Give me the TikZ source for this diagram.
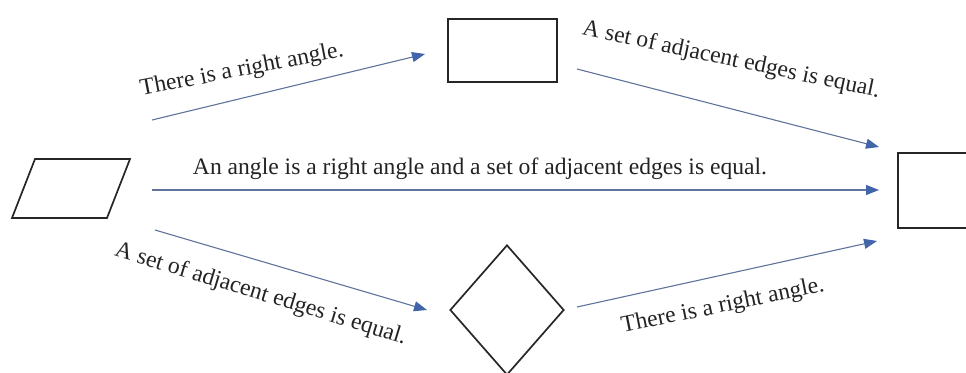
\documentclass[tikz,border=0pt]{standalone}
\usepackage{fontspec}
\setmainfont{Liberation Serif}
\usetikzlibrary{arrows.meta,shapes.geometric}
\definecolor{lineblue}{RGB}{95,115,155}
\definecolor{tipblue}{RGB}{65,100,170}
\definecolor{txt}{RGB}{35,35,35}
\begin{document}
\begin{tikzpicture}[x=1pt,y=-1pt,
  shapeline/.style={draw=black!85,line width=1.7pt},
  conn/.style={draw=lineblue,line width=1.1pt,-{Triangle[length=13pt,width=10pt,color=tipblue]}},
  lbl/.style={font=\fontsize{23.6}{26}\selectfont,text=txt,anchor=base,inner sep=0pt}]
\useasboundingbox (0,0) rectangle (966,372);
\clip (0,0) rectangle (966,372);
% shapes
\draw[shapeline] (35,159) -- (130,159) -- (107,218) -- (12,218) -- cycle;
\coordinate (para) at (71,188);
\node[shapeline,rectangle,minimum width=109pt,minimum height=63pt,inner sep=0pt] (rect) at (502.5,50.5) {};
\node[shapeline,rectangle,minimum width=120pt,minimum height=75pt,inner sep=0pt,anchor=north west] (sq) at (897,152) {};
\node[shapeline,diamond,minimum width=114pt,minimum height=130pt,inner sep=0pt] (dia) at (507,310) {};
% connector end points
\coordinate (s1) at (152,120); \coordinate (e1) at (425,54);
\coordinate (s2) at (577,69);  \coordinate (e2) at (879,147);
\coordinate (s3) at (152,190); \coordinate (e3) at (879,190);
\coordinate (s4) at (155,230); \coordinate (e4) at (427,310);
\coordinate (s5) at (577,307); \coordinate (e5) at (877,241);
\draw[conn] (s1) -- (e1);
\draw[conn] (s2) -- (e2);
\draw[conn] (s3) -- (e3);
\draw[conn] (s4) -- (e4);
\draw[conn] (s5) -- (e5);
% labels
\node[lbl,rotate=11] (l1) at (243,76) {There is a right angle.};
\node[lbl,rotate=-12] (l2) at (730,66) {A set of adjacent edges is equal.};
\node[lbl] (l3) at (480,174) {An angle is a right angle and a set of adjacent edges is equal.};
\node[lbl,rotate=-17] (l4) at (259,300) {A set of adjacent edges is equal.};
\node[lbl,rotate=11.5] (l5) at (724,312) {There is a right angle.};
\end{tikzpicture}
\end{document}
